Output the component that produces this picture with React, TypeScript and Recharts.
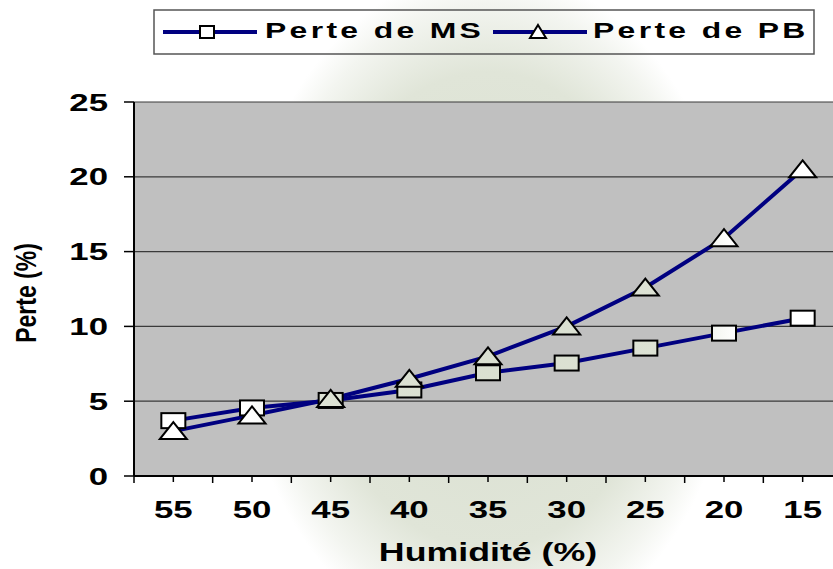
import { LineChart, Line, XAxis, YAxis, CartesianGrid } from 'recharts';

const categories = ['55', '50', '45', '40', '35', '30', '25', '20', '15'];
const perteMS = [3.7, 4.55, 5.05, 5.75, 6.9, 7.55, 8.55, 9.55, 10.55];
const pertePB = [3.0, 4.05, 5.15, 6.5, 8.0, 10.0, 12.6, 15.9, 20.5];
const yTicks = [0, 5, 10, 15, 20, 25];
const seriesNames = ['Perte de MS', 'Perte de PB'];

const data = categories.map((c, i) => ({ name: c, ms: perteMS[i], pb: pertePB[i] }));

const WIDTH = 842;
const HEIGHT = 569;
const margin = { top: 102, right: 0, bottom: 63, left: 74 };
const Y_AXIS_W = 60;
const plotWidth = WIDTH - margin.left - margin.right - Y_AXIS_W;
const band = plotWidth / categories.length;

const NAVY = '#000080';
const FONT = '"Liberation Sans", Arial, sans-serif';

// marker fill follows the faint watermark behind the chart
const markerFill = 'url(#wmFill)';

const Square = ({ cx, cy }: any) => {
  if (cx == null || cy == null) return null;
  return <rect x={cx - 12} y={cy - 7.5} width={24} height={15} fill={markerFill} stroke="#000" strokeWidth={2} />;
};

const Triangle = ({ cx, cy }: any) => {
  if (cx == null || cy == null) return null;
  return (
    <polygon
      points={`${cx},${cy - 9} ${cx + 13.5},${cy + 8} ${cx - 13.5},${cy + 8}`}
      fill={markerFill}
      stroke="#000"
      strokeWidth={2}
      strokeLinejoin="miter"
    />
  );
};

const XTick = ({ x, y, payload, index }: any) => {
  return (
    <g>
      <line x1={x} x2={x} y1={y} y2={y + 6} stroke="#000" strokeWidth={1.5} />
      <line x1={x - band / 2} x2={x - band / 2} y1={y} y2={y + 7} stroke="#000" strokeWidth={1.5} />
      {index === categories.length - 1 && (
        <line x1={x + band / 2} x2={x + band / 2} y1={y} y2={y + 7} stroke="#000" strokeWidth={1.5} />
      )}
      <text
        transform={`translate(${x},${y + 42}) scale(1.45,1)`}
        textAnchor="middle"
        fontFamily={FONT}
        fontWeight="bold"
        fontSize={24}
        fill="#000"
      >
        {payload.value}
      </text>
    </g>
  );
};

const YTick = ({ x, y, payload }: any) => (
  <text
    transform={`translate(${x},${y}) scale(1.45,1)`}
    textAnchor="end"
    dy="0.36em"
    fontFamily={FONT}
    fontWeight="bold"
    fontSize={24}
    fill="#000"
  >
    {payload.value}
  </text>
);

const LegendBox = () => (
  <svg width={833} height={70} style={{ position: 'absolute', left: 0, top: 0 }}>
    <rect x={154} y={10} width={660} height={44} fill="none" stroke="#555" strokeWidth={1.5} />
    <line x1={163} x2={257} y1={32} y2={32} stroke={NAVY} strokeWidth={4} />
    <rect x={200} y={26} width={14} height={12} fill="#fff" stroke="#000" strokeWidth={2} />
    <text
      transform="translate(265,38) scale(1.45,1)"
      fontFamily={FONT}
      fontWeight="bold"
      fontSize={22}
      letterSpacing={2.3}
      fill="#000"
    >
      {seriesNames[0]}
    </text>
    <line x1={493} x2={587} y1={32} y2={32} stroke={NAVY} strokeWidth={4} />
    <polygon points="538,25 546,38 530,38" fill="#fff" stroke="#000" strokeWidth={2} />
    <text
      transform="translate(593,38) scale(1.45,1)"
      fontFamily={FONT}
      fontWeight="bold"
      fontSize={22}
      letterSpacing={2.3}
      fill="#000"
    >
      {seriesNames[1]}
    </text>
  </svg>
);

export default function App() {
  return (
    <div
      style={{
        position: 'absolute',
        left: 0,
        top: 0,
        width: 833,
        height: 569,
        overflow: 'hidden',
        background:
          'radial-gradient(ellipse 250px 340px at 488px 310px, #d9dfd0 0%, #e0e5d8 70%, #f3f5f0 90%, #ffffff 100%)',
      }}
    >
      <LineChart width={WIDTH} height={HEIGHT} data={data} margin={margin}>
        <defs>
          <radialGradient
            id="wmFill"
            gradientUnits="userSpaceOnUse"
            cx={488}
            cy={310}
            r={250}
            gradientTransform="translate(488,310) scale(1,1.36) translate(-488,-310)"
          >
            <stop offset="0%" stopColor="#d9dfd0" />
            <stop offset="70%" stopColor="#dde2d4" />
            <stop offset="90%" stopColor="#f3f5f0" />
            <stop offset="100%" stopColor="#ffffff" />
          </radialGradient>
        </defs>
        <CartesianGrid
          vertical={false}
          fill="#c0c0c0"
          fillOpacity={1}
          stroke="#3a3a3a"
          strokeWidth={1.2}
        />
        <XAxis
          dataKey="name"
          scale="band"
          height={30}
          axisLine={{ stroke: '#000', strokeWidth: 2 }}
          tickLine={false}
          tickSize={0}
          tickMargin={0}
          tick={<XTick />}
          interval={0}
          label={{
            content: () => (
              <text
                transform="translate(488,561) scale(1.43,1)"
                textAnchor="middle"
                fontFamily={FONT}
                fontWeight="bold"
                fontSize={25}
                fill="#000"
              >
                Humidité (%)
              </text>
            ),
          }}
        />
        <YAxis
          width={Y_AXIS_W}
          domain={[0, 25]}
          ticks={yTicks}
          interval={0}
          axisLine={{ stroke: '#000', strokeWidth: 2 }}
          tickLine={{ stroke: '#000', strokeWidth: 1.5 }}
          tickSize={10}
          tickMargin={16}
          tick={<YTick />}
          label={{
            content: () => (
              <text
                transform="translate(36,293) rotate(-90) scale(1,1.3)"
                textAnchor="middle"
                fontFamily={FONT}
                fontWeight="bold"
                fontSize={23}
                fill="#000"
              >
                Perte (%)
              </text>
            ),
          }}
        />
        <Line
          type="linear"
          dataKey="ms"
          stroke={NAVY}
          strokeWidth={4}
          dot={<Square />}
          activeDot={false}
          isAnimationActive={false}
        />
        <Line
          type="linear"
          dataKey="pb"
          stroke={NAVY}
          strokeWidth={4}
          dot={<Triangle />}
          activeDot={false}
          isAnimationActive={false}
        />
      </LineChart>
      <LegendBox />
    </div>
  );
}
